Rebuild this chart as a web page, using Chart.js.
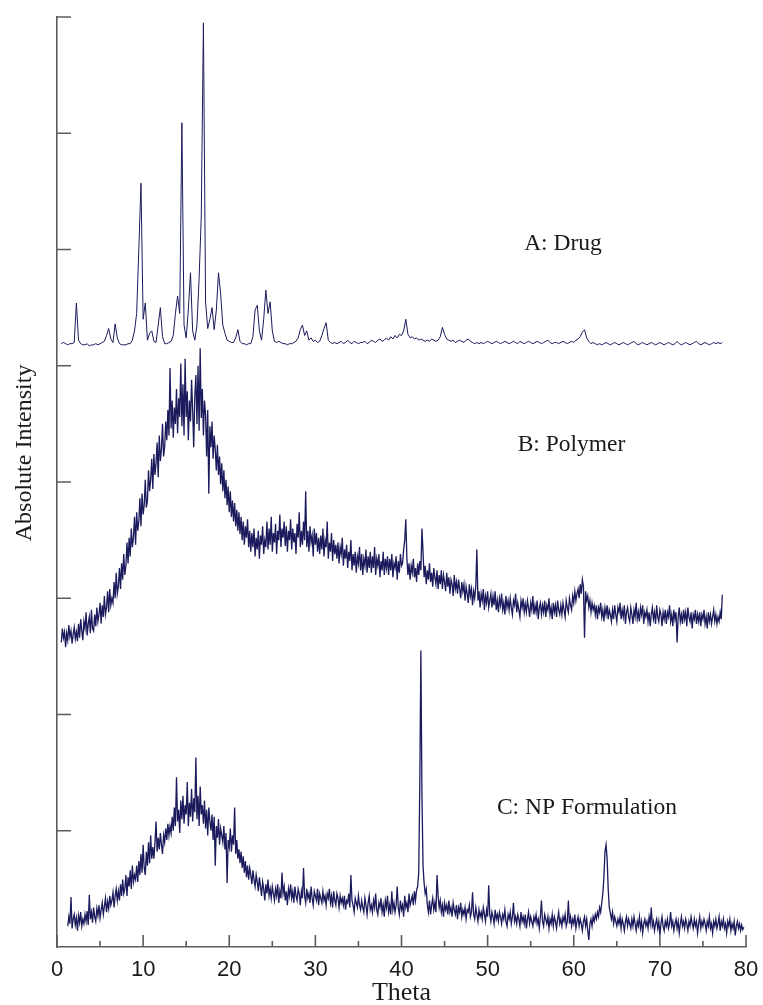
<!DOCTYPE html>
<html>
<head>
<meta charset="utf-8">
<script src="https://cdn.jsdelivr.net/npm/chart.js@4.4.1/dist/chart.umd.min.js"></script>
<style>
  html, body { margin: 0; padding: 0; background: #fff; }
  #wrap { width: 763px; height: 1005px; position: relative; }
</style>
</head>
<body>
<div id="wrap"><canvas id="xrdchart"></canvas></div>
<script>
// scan grids (2 theta, degrees)
var drugStart = 0.5, drugStep = 0.25;
var polymerStart = 0.5, polymerStep = 0.125;
var npStart = 1.25, npStep = 0.125;

var seriesNames = ["A: Drug", "B: Polymer", "C: NP Formulation"];

// A: Drug, 0.5 .. 77.25
var drugIntensity = [
  5.19,5.20,5.19,5.18,5.19,5.19,5.20,5.54,5.22,5.19,
  5.18,5.18,5.19,5.17,5.18,5.18,5.19,5.18,5.19,5.20,
  5.21,5.26,5.32,5.23,5.20,5.36,5.24,5.19,5.18,5.18,
  5.18,5.19,5.19,5.22,5.30,5.45,6.00,6.57,5.40,5.54,
  5.22,5.28,5.30,5.21,5.20,5.35,5.50,5.25,5.19,5.19,
  5.20,5.21,5.26,5.45,5.60,5.45,7.09,5.35,5.24,5.48,
  5.80,5.30,5.22,5.35,5.75,6.28,7.95,5.55,5.32,5.40,
  5.50,5.31,5.48,5.80,5.62,5.35,5.28,5.22,5.21,5.20,
  5.20,5.24,5.31,5.21,5.19,5.19,5.18,5.19,5.19,5.25,
  5.48,5.52,5.30,5.22,5.40,5.65,5.45,5.55,5.30,5.21,
  5.20,5.21,5.20,5.19,5.19,5.18,5.19,5.19,5.20,5.21,
  5.24,5.31,5.35,5.26,5.30,5.22,5.24,5.21,5.22,5.20,
  5.21,5.26,5.32,5.37,5.22,5.20,5.19,5.20,5.19,5.20,
  5.21,5.19,5.20,5.22,5.20,5.19,5.21,5.20,5.19,5.20,
  5.20,5.21,5.19,5.20,5.22,5.21,5.20,5.22,5.23,5.21,
  5.22,5.24,5.22,5.25,5.23,5.26,5.24,5.27,5.26,5.30,
  5.40,5.27,5.24,5.25,5.23,5.24,5.22,5.23,5.22,5.21,
  5.22,5.21,5.23,5.22,5.21,5.22,5.25,5.33,5.27,5.23,
  5.22,5.21,5.22,5.20,5.21,5.22,5.21,5.20,5.22,5.23,
  5.21,5.20,5.19,5.20,5.19,5.20,5.19,5.20,5.21,5.20,
  5.19,5.20,5.21,5.20,5.19,5.20,5.21,5.20,5.19,5.20,
  5.21,5.20,5.19,5.21,5.20,5.19,5.20,5.21,5.20,5.19,
  5.20,5.21,5.20,5.19,5.20,5.21,5.22,5.20,5.19,5.20,
  5.20,5.19,5.20,5.21,5.20,5.19,5.20,5.21,5.20,5.22,
  5.23,5.25,5.29,5.31,5.24,5.21,5.19,5.20,5.19,5.18,
  5.19,5.18,5.19,5.20,5.19,5.18,5.19,5.20,5.19,5.18,
  5.19,5.20,5.19,5.18,5.19,5.20,5.21,5.19,5.18,5.19,
  5.20,5.19,5.18,5.19,5.20,5.19,5.18,5.19,5.20,5.19,
  5.18,5.19,5.20,5.19,5.18,5.19,5.21,5.19,5.18,5.19,
  5.20,5.19,5.18,5.19,5.20,5.21,5.19,5.18,5.19,5.20,
  5.19,5.18,5.19,5.20,5.19,5.20,5.19,5.20
];

// B: Polymer, 0.5 .. 77.25
var polymerIntensity = [
  2.62,2.74,2.66,2.71,2.58,2.70,2.64,2.77,2.67,2.72,2.61,2.69,2.75,2.65,2.71,2.63,
  2.78,2.66,2.82,2.72,2.64,2.80,2.74,2.88,2.68,2.78,2.84,2.70,2.90,2.74,2.72,2.86,
  2.76,2.92,2.80,2.86,2.96,2.78,2.94,2.84,3.02,2.86,2.92,3.06,2.88,3.08,2.94,3.00,
  2.96,3.14,3.00,3.22,3.04,3.10,3.26,3.08,3.30,3.16,3.38,3.20,3.28,3.48,3.30,3.52,
  3.36,3.60,3.44,3.52,3.70,3.46,3.74,3.58,3.66,3.86,3.62,3.90,3.72,3.80,4.02,3.78,
  3.84,4.10,3.92,4.02,4.20,3.94,4.24,4.06,4.16,4.34,4.04,4.40,4.18,4.28,4.50,4.22,
  4.30,4.52,4.36,4.62,4.40,4.98,4.46,4.70,4.38,4.64,4.50,4.80,4.42,4.72,4.56,5.02,
  4.48,4.84,4.40,5.06,4.56,4.78,4.36,4.70,4.52,4.88,4.62,4.30,4.74,4.92,4.50,5.00,
  4.44,5.15,4.55,4.80,4.40,4.70,4.58,4.22,4.62,3.90,4.48,4.30,4.52,4.20,4.40,4.28,
  4.10,4.32,4.06,4.22,3.98,4.16,3.92,4.10,3.86,4.02,3.80,3.96,3.74,3.92,3.70,3.84,
  3.66,3.82,3.62,3.76,3.58,3.74,3.55,3.70,3.50,3.66,3.46,3.62,3.52,3.68,3.44,3.58,
  3.40,3.56,3.44,3.60,3.36,3.52,3.42,3.58,3.34,3.54,3.46,3.62,3.38,3.50,3.44,3.66,
  3.42,3.60,3.46,3.70,3.40,3.56,3.48,3.64,3.38,3.58,3.50,3.72,3.44,3.60,3.52,3.66,
  3.45,3.62,3.40,3.58,3.50,3.68,3.42,3.60,3.48,3.56,3.38,3.64,3.52,3.74,3.44,3.58,
  3.46,3.66,3.50,3.92,3.44,3.58,3.40,3.62,3.48,3.54,3.36,3.60,3.46,3.56,3.40,3.52,
  3.38,3.54,3.42,3.60,3.36,3.50,3.44,3.66,3.34,3.48,3.40,3.56,3.32,3.50,3.38,3.46,
  3.34,3.48,3.30,3.44,3.38,3.52,3.28,3.42,3.34,3.46,3.26,3.40,3.32,3.50,3.24,3.38,
  3.28,3.40,3.22,3.36,3.30,3.44,3.24,3.38,3.20,3.34,3.28,3.42,3.22,3.36,3.26,3.40,
  3.22,3.36,3.26,3.44,3.20,3.34,3.28,3.38,3.18,3.32,3.24,3.40,3.20,3.34,3.26,3.36,
  3.20,3.34,3.24,3.38,3.18,3.30,3.26,3.36,3.16,3.32,3.22,3.38,3.28,3.30,3.42,3.50,
  3.68,3.34,3.20,3.30,3.16,3.28,3.22,3.34,3.18,3.26,3.14,3.30,3.20,3.32,3.24,3.60,
  3.40,3.18,3.28,3.12,3.24,3.16,3.30,3.14,3.22,3.10,3.26,3.18,3.12,3.24,3.08,3.20,
  3.12,3.24,3.08,3.20,3.14,3.06,3.22,3.10,3.18,3.04,3.16,3.12,3.02,3.20,3.08,3.14,
  3.04,3.16,3.08,3.00,3.14,3.06,3.12,2.98,3.10,3.04,2.96,3.12,3.02,3.08,2.94,3.06,
  3.00,3.10,3.42,2.98,3.06,2.92,3.04,2.98,3.08,2.90,3.02,2.96,3.06,2.92,2.98,3.04,
  2.92,3.02,2.94,3.06,2.90,2.98,2.88,3.00,2.94,3.04,2.90,2.96,2.86,3.02,2.92,2.98,
  2.90,3.00,2.92,2.86,2.98,2.94,3.04,2.88,2.96,2.90,2.84,2.98,2.92,3.00,2.88,2.95,
  2.88,2.98,2.92,2.84,2.96,2.90,3.02,2.86,2.94,2.88,2.98,2.82,2.92,2.96,2.86,2.94,
  2.88,2.98,2.84,2.94,2.90,3.00,2.86,2.92,2.82,2.96,2.88,2.94,2.84,2.98,2.90,2.86,
  2.94,2.86,2.96,2.90,2.84,2.98,2.92,2.88,3.00,2.94,2.90,3.02,2.96,3.06,2.98,3.04,
  3.08,3.00,3.12,3.04,3.16,3.10,2.66,3.06,2.98,3.02,2.92,2.98,2.88,2.96,2.90,2.94,
  2.86,2.94,2.82,2.92,2.88,2.96,2.84,2.90,2.80,2.92,2.86,2.94,2.82,2.90,2.86,2.80,
  2.90,2.82,2.94,2.86,2.80,2.92,2.88,2.96,2.82,2.90,2.84,2.94,2.78,2.88,2.92,2.84,
  2.80,2.92,2.86,2.78,2.90,2.84,2.96,2.82,2.88,2.80,2.92,2.86,2.94,2.78,2.88,2.84,
  2.90,2.80,2.88,2.76,2.86,2.92,2.82,2.88,2.78,2.94,2.84,2.80,2.90,2.86,2.76,2.88,
  2.82,2.90,2.78,2.88,2.84,2.94,2.80,2.86,2.76,2.90,2.82,2.88,2.62,2.84,2.92,2.80,
  2.86,2.78,2.90,2.82,2.88,2.76,2.92,2.84,2.80,2.88,2.74,2.86,2.82,2.90,2.78,2.86,
  2.80,2.88,2.76,2.86,2.82,2.90,2.78,2.84,2.74,2.88,2.80,2.86,2.78,2.84,2.90,2.80,
  2.86,2.78,2.84,2.80,2.88,2.82,3.03
];

// C: NP Formulation, 1.25 .. 79.75
var npIntensity = [
  0.18,0.26,0.20,0.43,0.16,0.24,0.28,0.19,0.25,0.14,0.27,0.21,0.30,0.18,0.24,0.20,
  0.28,0.22,0.31,0.19,0.45,0.24,0.30,0.21,0.34,0.26,0.22,0.33,0.27,0.36,0.25,0.32,
  0.38,0.28,0.35,0.42,0.30,0.39,0.33,0.44,0.36,0.40,0.47,0.34,0.44,0.50,0.40,0.48,
  0.40,0.54,0.44,0.58,0.46,0.50,0.62,0.44,0.60,0.52,0.66,0.50,0.70,0.56,0.62,0.58,
  0.70,0.56,0.74,0.62,0.80,0.64,0.88,0.68,0.62,0.82,0.70,0.90,0.72,0.96,0.76,0.86,
  0.76,0.90,1.08,0.82,0.94,0.84,0.98,0.88,0.80,0.96,0.90,1.02,0.92,1.06,0.96,1.04,
  0.98,1.12,1.00,1.20,1.04,1.46,1.08,1.18,0.98,1.26,1.10,1.30,1.06,1.22,1.14,1.42,
  1.04,1.24,1.12,1.36,1.08,1.28,1.16,1.63,1.10,1.30,1.04,1.38,1.14,1.22,1.06,1.26,
  1.02,1.18,0.96,1.20,1.08,1.00,1.14,0.92,1.12,0.70,1.04,0.94,1.10,0.88,1.02,0.96,
  0.90,1.04,0.84,0.98,0.55,0.92,0.86,1.02,0.82,0.96,0.88,1.20,0.80,0.92,0.76,0.84,
  0.72,0.82,0.68,0.78,0.64,0.74,0.60,0.70,0.58,0.68,0.62,0.54,0.66,0.58,0.52,0.62,
  0.56,0.48,0.60,0.52,0.44,0.56,0.50,0.40,0.54,0.46,0.58,0.44,0.50,0.42,0.52,0.46,
  0.40,0.50,0.44,0.54,0.38,0.48,0.42,0.64,0.46,0.52,0.40,0.48,0.36,0.50,0.44,0.54,
  0.42,0.48,0.38,0.52,0.44,0.40,0.50,0.46,0.36,0.48,0.42,0.68,0.44,0.38,0.50,0.42,
  0.46,0.38,0.52,0.42,0.36,0.48,0.44,0.40,0.50,0.36,0.46,0.42,0.38,0.48,0.40,0.44,
  0.36,0.46,0.42,0.50,0.38,0.44,0.34,0.48,0.40,0.36,0.46,0.42,0.34,0.44,0.38,0.42,
  0.36,0.44,0.32,0.40,0.38,0.46,0.34,0.62,0.40,0.36,0.30,0.42,0.38,0.34,0.44,0.36,
  0.32,0.40,0.34,0.30,0.42,0.36,0.28,0.38,0.44,0.32,0.36,0.30,0.40,0.34,0.46,0.32,
  0.28,0.38,0.34,0.42,0.30,0.36,0.26,0.40,0.34,0.44,0.30,0.36,0.28,0.48,0.32,0.38,
  0.30,0.36,0.52,0.34,0.28,0.40,0.32,0.36,0.26,0.44,0.34,0.38,0.30,0.46,0.36,0.40,
  0.44,0.36,0.48,0.40,0.49,0.52,0.64,1.40,2.55,1.30,0.70,0.55,0.46,0.50,0.36,0.30,
  0.40,0.28,0.36,0.42,0.32,0.38,0.30,0.62,0.44,0.34,0.40,0.30,0.36,0.26,0.38,0.32,
  0.36,0.28,0.40,0.30,0.34,0.26,0.38,0.32,0.28,0.36,0.24,0.34,0.30,0.38,0.26,0.32,
  0.28,0.34,0.24,0.32,0.30,0.36,0.26,0.30,0.47,0.28,0.24,0.34,0.28,0.22,0.32,0.26,
  0.30,0.24,0.34,0.28,0.22,0.32,0.26,0.53,0.28,0.22,0.30,0.26,0.20,0.32,0.24,0.28,
  0.22,0.30,0.26,0.20,0.28,0.24,0.32,0.22,0.18,0.28,0.24,0.30,0.20,0.26,0.38,0.22,
  0.26,0.20,0.28,0.24,0.18,0.30,0.22,0.26,0.20,0.28,0.16,0.24,0.30,0.20,0.26,0.22,
  0.18,0.26,0.22,0.28,0.20,0.24,0.16,0.26,0.40,0.22,0.18,0.28,0.24,0.20,0.26,0.16,
  0.24,0.20,0.28,0.18,0.26,0.22,0.16,0.24,0.30,0.20,0.24,0.18,0.26,0.22,0.28,0.18,
  0.22,0.40,0.20,0.26,0.18,0.24,0.20,0.28,0.16,0.22,0.26,0.18,0.24,0.20,0.14,0.22,
  0.26,0.18,0.24,0.14,0.06,0.20,0.24,0.18,0.26,0.22,0.28,0.24,0.30,0.26,0.34,0.30,
  0.38,0.46,0.60,0.82,0.88,0.76,0.50,0.34,0.29,0.24,0.30,0.20,0.26,0.22,0.18,0.24,
  0.20,0.26,0.16,0.24,0.20,0.14,0.22,0.26,0.18,0.24,0.20,0.16,0.24,0.18,0.26,0.20,
  0.14,0.22,0.18,0.26,0.16,0.22,0.12,0.20,0.24,0.18,0.22,0.16,0.26,0.20,0.34,0.18,
  0.22,0.14,0.20,0.24,0.16,0.22,0.10,0.20,0.26,0.18,0.14,0.22,0.18,0.24,0.16,0.20,
  0.30,0.18,0.22,0.14,0.20,0.24,0.16,0.22,0.12,0.20,0.26,0.18,0.22,0.16,0.24,0.20,
  0.14,0.22,0.18,0.26,0.20,0.16,0.24,0.18,0.22,0.12,0.20,0.26,0.16,0.22,0.18,0.24,
  0.20,0.14,0.22,0.18,0.26,0.16,0.20,0.12,0.22,0.18,0.24,0.16,0.20,0.26,0.14,0.22,
  0.18,0.24,0.16,0.20,0.12,0.22,0.18,0.24,0.14,0.20,0.16,0.22,0.10,0.18,0.22,0.16,
  0.20,0.14,0.19,0.15,0.17
];

// axis ticks
var yTickValues = [1, 2, 3, 4, 5, 6, 7, 8];
var xMajorTicks = [0, 10, 20, 30, 40, 50, 60, 70, 80];
var xMinorTicks = [5, 15, 25, 35, 45, 55, 65, 75];

// where the curve names sit (theta, intensity)
var nameTheta = [58.75, 59.74, 61.54];
var nameLevel = [6.05, 4.32, 1.20];

var lineColor = '#1a1a5c';
var axisColor = '#5c5c5c';
var textColor = '#1a1a1a';
var serif = '"Liberation Serif", "Times New Roman", serif';
var sans = '"Liberation Sans", Arial, sans-serif';

function toPoints(start, step, values) {
    return values.map(function (v, i) {
        return { x: start + i * step, y: v };
    });
}

function lineSet(start, step, values, width) {
    return {
        data: toPoints(start, step, values),
        borderColor: lineColor,
        borderWidth: width,
        pointRadius: 0,
        tension: 0,
        fill: false
    };
}

var decorPlugin = {
    id: 'decor',
    afterDraw: function (chart) {
        var ctx = chart.ctx;
        var xs = chart.scales.x, ys = chart.scales.y;
        var left = chart.chartArea.left, bottom = chart.chartArea.bottom;
        ctx.save();
        ctx.strokeStyle = axisColor;
        ctx.lineWidth = 1.6;
        ctx.beginPath();
        yTickValues.forEach(function (v) {
            var py = ys.getPixelForValue(v);
            ctx.moveTo(left, py);
            ctx.lineTo(left + 14, py);
        });
        xMajorTicks.forEach(function (t) {
            var px = xs.getPixelForValue(t);
            ctx.moveTo(px, bottom);
            ctx.lineTo(px, bottom - 12);
        });
        xMinorTicks.forEach(function (t) {
            var px = xs.getPixelForValue(t);
            ctx.moveTo(px, bottom);
            ctx.lineTo(px, bottom - 6);
        });
        ctx.stroke();

        ctx.fillStyle = textColor;
        ctx.textAlign = 'center';
        ctx.textBaseline = 'middle';
        ctx.font = '23.5px ' + serif;
        seriesNames.forEach(function (name, i) {
            ctx.fillText(name, xs.getPixelForValue(nameTheta[i]), ys.getPixelForValue(nameLevel[i]));
        });

        // y axis title
        ctx.font = '24px ' + serif;
        ctx.translate(left - 32, ys.getPixelForValue(4.25));
        ctx.rotate(-Math.PI / 2);
        ctx.fillText('Absolute Intensity', 0, 0);
        ctx.restore();
    }
};

function renderChart() {
    var ctx = document.getElementById('xrdchart').getContext('2d');
    var chart = new Chart(ctx, {
        type: 'line',
        data: {
            datasets: [
                lineSet(drugStart, drugStep, drugIntensity, 1),
                lineSet(polymerStart, polymerStep, polymerIntensity, 1.3),
                lineSet(npStart, npStep, npIntensity, 1.3)
            ]
        },
        options: {
            responsive: true,
            maintainAspectRatio: false,
            animation: false,
            layout: { padding: { left: 57, right: 17, top: 17, bottom: 0 } },
            plugins: {
                legend: { display: false },
                tooltip: { enabled: false }
            },
            scales: {
                x: {
                    type: 'linear',
                    min: 0,
                    max: 80,
                    grid: { display: false, drawTicks: false },
                    border: { display: true, color: axisColor, width: 1.6 },
                    afterFit: function (scale) {
                        scale.height = 58;
                        scale.paddingRight = 12;
                    },
                    ticks: {
                        stepSize: 10,
                        autoSkip: false,
                        maxRotation: 0,
                        padding: 12.4,
                        color: textColor,
                        font: { family: sans, size: 22, lineHeight: 1 }
                    },
                    title: {
                        display: true,
                        text: 'Theta',
                        color: textColor,
                        font: { family: serif, size: 26, lineHeight: 0.8 },
                        padding: { top: 0, bottom: 1.6 }
                    }
                },
                y: {
                    min: 0,
                    max: 8,
                    grid: { display: false, drawTicks: false },
                    border: { display: true, color: axisColor, width: 1.6 },
                    ticks: { display: false }
                }
            }
        },
        plugins: [decorPlugin]
    });
    return chart;
}

renderChart();
</script>
</body>
</html>
